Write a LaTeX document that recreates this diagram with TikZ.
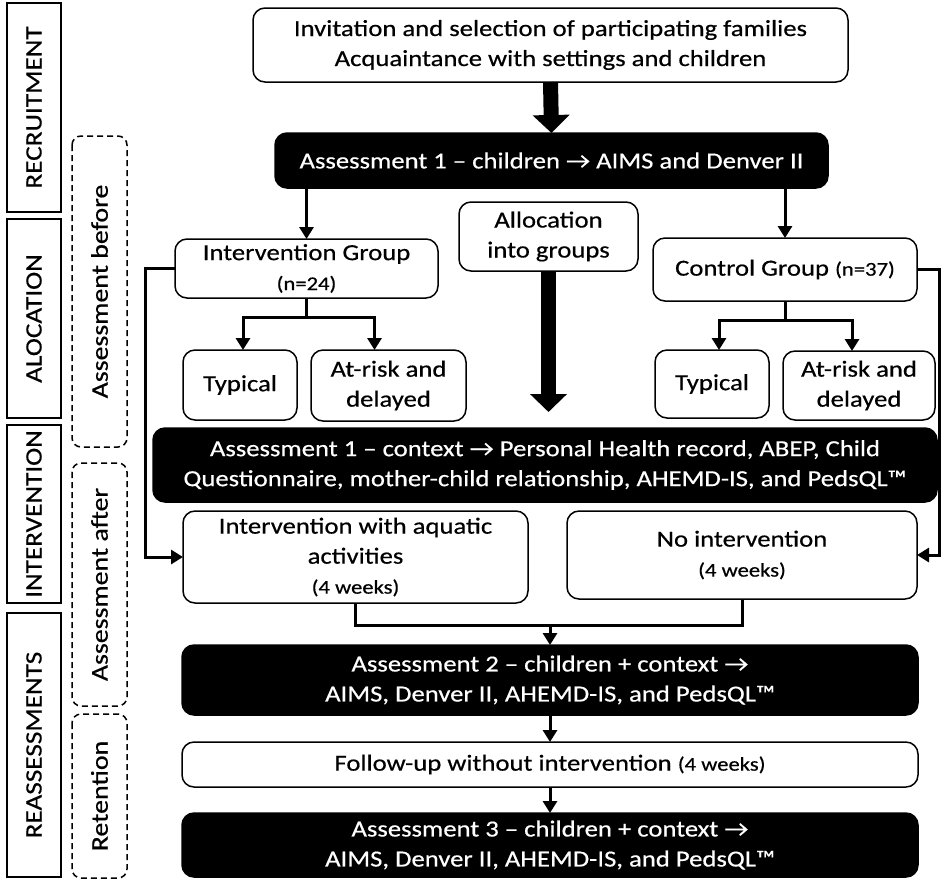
\documentclass[tikz,border=0pt]{standalone}
\usepackage{fontspec}
\setmainfont[FakeStretch=1.16, FakeBold=0.5]{Carlito}
\usetikzlibrary{arrows.meta}
\newcommand\sm[1]{{\fontsize{19.5}{24}\selectfont #1}}

\begin{document}
\begin{tikzpicture}[x=1pt,y=1pt]
\tikzstyle{every node}+=[inner sep=0pt, outer sep=0pt, align=center, font=\fontsize{23}{30}\selectfont]
\tikzstyle{wbox}=[draw, fill=white, rounded corners=12pt, line width=1.5pt]
\tikzstyle{bbox}=[draw, fill=black, text=white, rounded corners=12pt, line width=1.5pt]
\tikzstyle{phase}=[draw, rotate=90, line width=1.5pt, font=\fontsize{23.5}{26}\selectfont]
\tikzstyle{stage}=[draw, dash pattern=on 6pt off 4pt, rotate=90, rounded corners=9pt, line width=1.5pt, font=\fontsize{24}{30}\selectfont]
\tikzstyle{line}=[line width=3pt]
\tikzstyle{link}=[line width=3pt, -{Triangle[length=12pt,width=14pt]}]
\tikzstyle{bigarrow}=[line width=15pt, -{Triangle[length=18pt,width=36pt]}]
\useasboundingbox (0,0) rectangle (941,-879);
\node [phase, minimum width=209, minimum height=54] (recruit) at (34,-107.5) {RECRUITMENT};
\node [phase, minimum width=199, minimum height=54] (alocation) at (34,-318.5) {ALOCATION};
\node [phase, minimum width=178, minimum height=54] (interv) at (34,-514) {INTERVENTION};
\node [phase, minimum width=264, minimum height=54] (reass) at (34,-745) {REASSESSMENTS};
\node [stage, minimum width=311, minimum height=55] (before) at (99.5,-291.5) {Assessment before};
\node [stage, minimum width=243, minimum height=55] (after) at (99.5,-584.5) {Assessment after};
\node [stage, minimum width=164, minimum height=55] (retention) at (99.5,-796) {Retention};
\node [wbox, minimum width=595, minimum height=74] (invite) at (550.5,-45) {Invitation and selection of participating families\\Acquaintance with settings and children};
\node [bbox, minimum width=553, minimum height=55] (ass1) at (551.5,-160.5) {Assessment 1 – children → AIMS and Denver II};
\node [wbox, minimum width=179, minimum height=69] (alloc) at (548.5,-236.5) {Allocation\\into groups};
\node [wbox, minimum width=263, minimum height=59] (igroup) at (306.5,-268.5) {Intervention Group\\\sm{(n=24)}};
\node [wbox, minimum width=264, minimum height=63] (cgroup) at (785,-269.5) {Control Group \sm{(n=37)}};
\node [wbox, minimum width=114, minimum height=70] (ityp) at (240,-385) {Typical};
\node [wbox, minimum width=155, minimum height=71] (irisk) at (388.5,-385.5) {At-risk and\\delayed};
\node [wbox, minimum width=114, minimum height=68] (ctyp) at (712,-384) {Typical};
\node [wbox, minimum width=152, minimum height=69] (crisk) at (859,-385.5) {At-risk and\\delayed};
\node [bbox, minimum width=784, minimum height=74] (context) at (545,-465) {Assessment 1 – context → Personal Health record, ABEP, Child\\Questionnaire, mother-child relationship, AHEMD-IS, and PedsQL™};
\node [wbox, minimum width=345, minimum height=92] (aquatic) at (355.5,-557) {Intervention with aquatic\\activities\\\sm{(4 weeks)}};
\node [wbox, minimum width=350, minimum height=88] (nointerv) at (742,-555) {No intervention\\\sm{(4 weeks)}};
\node [bbox, minimum width=736, minimum height=70] (ass2) at (550,-680) {Assessment 2 – children + context →\\AIMS, Denver II, AHEMD-IS, and PedsQL™};
\node [wbox, minimum width=736, minimum height=45] (follow) at (550,-764.5) {Follow-up without intervention \sm{(4 weeks)}};
\node [bbox, minimum width=736, minimum height=64] (ass3) at (550,-845) {Assessment 3 – children + context →\\AIMS, Denver II, AHEMD-IS, and PedsQL™};
\coordinate (merge) at (550,-625);
\draw [bigarrow] (invite.south) -- (ass1.north);
\draw [link] (ass1.south -| igroup.north) -- (igroup.north);
\draw [link] (ass1.south -| cgroup.north) -- (cgroup.north);
\draw [bigarrow, shorten >=16pt] (alloc.south) -- (alloc.south |- context.north);
\draw [link] (igroup.south) -- ++(0,-19) -| ([xshift=3pt]ityp.north);
\draw [link] (igroup.south) -- ++(0,-19) -| ([xshift=-14pt]irisk.north);
\draw [link] (cgroup.south) -- ++(0,-19) -| ([xshift=7pt]ctyp.north);
\draw [link] (cgroup.south) -- ++(0,-19) -| ([xshift=-7pt]crisk.north);
\draw [link] (igroup.west) -- ++(-30,0) |- (aquatic.west);
\draw [link] (cgroup.east) -- ++(22,0) |- (nointerv.east);
\draw [line] (aquatic.south) |- (merge) -| (nointerv.south);
\draw [link] (merge) -- (ass2.north);
\draw [link] (ass2.south) -- (follow.north);
\draw [link] (follow.south) -- (ass3.north);
\end{tikzpicture}
\end{document}
